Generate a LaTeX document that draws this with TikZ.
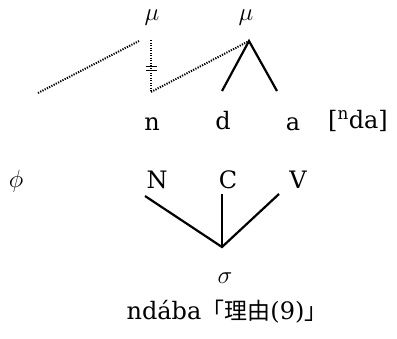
\documentclass[tikz,border=0pt]{standalone}
\usepackage{fontspec}
\setmainfont{DejaVu Serif}
\newfontfamily\cjk{Noto Sans CJK JP}
\begin{document}
\begin{tikzpicture}[x=1pt,y=-1pt,
  lbl/.style={inner sep=0pt,font=\fontsize{24}{28}\selectfont},
  sml/.style={inner sep=0pt,font=\fontsize{24}{28}\selectfont},
  solidln/.style={line width=2.2pt},
  dotln/.style={line width=2pt,dash pattern=on 1.2pt off 1.3pt}]
\useasboundingbox (0,0) rectangle (397,338);
% nodes
\node[sml] (mu1) at (152,18) {$\mu$};
\node[sml] (mu2) at (246,18) {$\mu$};
\node[lbl] (n) at (152,124) {n};
\node[lbl] (d) at (223,121) {d};
\node[lbl] (a) at (293,124) {a};
\node[lbl] (br) at (358,121) {[\textsuperscript{n}da]};
\node[sml] (phi) at (16,181) {$\phi$};
\node[lbl] (N) at (157,180) {N};
\node[lbl] (C) at (228,180) {C};
\node[lbl] (V) at (298,180) {V};
\node[sml] (sigma) at (225,278) {$\sigma$};
\node[lbl] (cap) at (227,312) {ndába{\cjk\fontsize{23}{28}\selectfont 「理由}(9){\cjk\fontsize{23}{28}\selectfont 」}};
% anchor coordinates
\coordinate (mu1b) at (151,40);
\coordinate (mu1l) at (139,41);
\coordinate (freeL) at (38,93);
\coordinate (nt) at (151,92);
\coordinate (mu2b) at (249,41);
\coordinate (dt) at (222,91);
\coordinate (at) at (277,91);
\coordinate (Nb) at (145,196);
\coordinate (Cb) at (222,194);
\coordinate (Vb) at (279,194);
\coordinate (sigt) at (222,247);
% connectors
\draw[dotln] (freeL) -- (mu1l);
\draw[dotln] (mu1b) -- (nt);
\draw[dotln] (nt) -- (mu2b);
\draw[line width=1.5pt] (145.5,66.5) -- (157,66.5) (145.5,70.5) -- (157,70.5);
\draw[solidln] (dt) -- (mu2b) -- (at);
\draw[solidln] (Nb) -- (sigt) -- (Vb);
\draw[line width=1.5pt] (Cb) -- (sigt);
\end{tikzpicture}
\end{document}
